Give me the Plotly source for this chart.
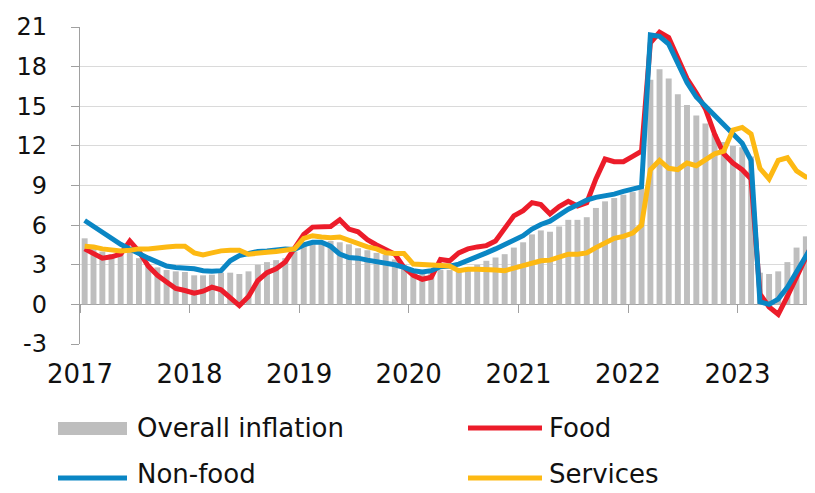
import pandas as pd
import plotly.graph_objects as go

# ---------------- data (monthly, Jan 2017 - Sep 2023) ----------------
months = pd.date_range("2017-01-01", periods=81, freq="MS")

overall = [5.0, 4.5, 4.0, 3.8, 3.9, 4.0, 3.5, 3.0, 2.8, 2.6, 2.5, 2.45,
           2.2, 2.2, 2.25, 2.4, 2.4, 2.3, 2.5, 3.0, 3.2, 3.35, 3.5, 4.0,
           4.5, 4.75, 4.8, 4.8, 4.7, 4.55, 4.25, 4.1, 3.9, 3.75, 3.4, 3.0,
           2.4, 2.3, 2.4, 2.6, 2.6, 2.6, 2.8, 3.0, 3.3, 3.55, 3.8, 4.3,
           4.7, 5.3, 5.6, 5.5, 5.9, 6.4, 6.4, 6.6, 7.3, 7.8, 8.05, 8.3,
           8.5, 8.75, 17.0, 17.8, 17.1, 15.9, 15.1, 14.3, 13.7, 12.9, 12.3, 12.0,
           11.9, 11.2, 2.4, 2.3, 2.5, 3.2, 4.3, 5.15, 6.0]

food = [4.2, 3.8, 3.5, 3.6, 3.8, 4.8, 4.0, 2.9, 2.2, 1.7, 1.2, 1.05,
        0.85, 1.0, 1.3, 1.1, 0.55, -0.1, 0.6, 1.8, 2.4, 2.7, 3.2, 4.3,
        5.3, 5.85, 5.9, 5.9, 6.4, 5.7, 5.5, 4.9, 4.5, 4.2, 3.8, 2.8,
        2.2, 1.9, 2.05, 3.4, 3.3, 3.9, 4.2, 4.35, 4.45, 4.8, 5.7, 6.7,
        7.1, 7.7, 7.55, 6.85, 7.4, 7.8, 7.45, 7.7, 9.5, 11.0, 10.8, 10.8,
        11.2, 11.6, 19.8, 20.6, 20.2, 18.7, 17.1, 16.0, 14.8, 12.9, 11.4, 10.7,
        10.2, 9.5, 0.8, -0.2, -0.75, 0.6, 2.0, 3.5, 5.0]

non_food = [6.35, 5.9, 5.4, 5.0, 4.55, 4.2, 3.8, 3.5, 3.2, 2.9, 2.8, 2.75,
            2.7, 2.55, 2.5, 2.55, 3.3, 3.7, 3.85, 4.0, 4.05, 4.15, 4.2, 4.15,
            4.5, 4.7, 4.7, 4.4, 3.8, 3.55, 3.5, 3.35, 3.25, 3.1, 3.0, 2.8,
            2.55, 2.45, 2.55, 2.85, 2.9, 3.05, 3.3, 3.6, 3.9, 4.2, 4.55, 4.9,
            5.2, 5.7, 6.05, 6.3, 6.8, 7.2, 7.55, 7.9, 8.1, 8.2, 8.35, 8.55,
            8.7, 8.9, 20.4, 20.3, 19.7, 18.3, 16.8, 15.7, 15.0, 14.2, 13.5, 12.8,
            12.2, 10.9, 0.2, 0.0, 0.4, 1.3, 2.5, 3.7, 4.8]

services = [4.4, 4.35, 4.2, 4.1, 4.05, 4.1, 4.2, 4.2, 4.3, 4.35, 4.4, 4.4,
            3.9, 3.75, 3.9, 4.05, 4.1, 4.1, 3.8, 3.9, 3.95, 4.0, 4.1, 4.2,
            5.0, 5.2, 5.1, 5.05, 5.1, 4.85, 4.6, 4.35, 4.2, 3.9, 3.85, 3.85,
            3.05, 3.0, 2.95, 2.9, 2.9, 2.55, 2.65, 2.65, 2.65, 2.6, 2.55, 2.75,
            2.9, 3.15, 3.3, 3.35, 3.55, 3.8, 3.8, 3.9, 4.3, 4.6, 5.0, 5.15,
            5.4, 6.0, 10.2, 10.9, 10.3, 10.2, 10.7, 10.5, 10.9, 11.4, 11.6, 13.2,
            13.4, 12.9, 10.3, 9.5, 10.9, 11.1, 10.1, 9.65, 9.65]

legend_labels = ["Overall inflation", "Food", "Non-food", "Services"]
y_ticks = [-3, 0, 3, 6, 9, 12, 15, 18, 21]
y_tick_text = ["-3", "0", "3", "6", "9", "12", "15", "18", "21"]

# ---------------- styling ----------------
GRAY = "#BEBEBE"
RED = "#EC1C2A"
BLUE = "#0A86C4"
YELLOW = "#FDB913"
AXIS = "#A0A0A0"
GRID = "#DADADA"
FONT = "DejaVu Sans"
TXT = "#111111"

# the page has an 8px body margin, so the figure is drawn 8px in from the corner
OFF = 8
W, H = 815 - OFF, 493 - OFF
ML, MT = 80 - OFF, 27 - OFF
MR = 0
MB = H - (344 - OFF)
PW, PH = W - ML - MR, H - MT - MB
X_RANGE = ["2017-01-01", "2023-09-16"]


def px_x(px):
    """page pixel x -> paper coordinate"""
    return (px - OFF - ML) / PW


def px_y(py):
    """page pixel y -> paper coordinate"""
    return (H - MB - (py - OFF)) / PH


fig = go.Figure()
fig.add_trace(go.Bar(x=months, y=overall, name=legend_labels[0], marker_color=GRAY,
                     marker_line_width=0, xperiod="M1", xperiodalignment="middle",
                     showlegend=False))
fig.add_trace(go.Scatter(x=months, y=food, name=legend_labels[1], mode="lines",
                         line=dict(color=RED, width=5), xperiod="M1",
                         xperiodalignment="middle", showlegend=False))
fig.add_trace(go.Scatter(x=months, y=non_food, name=legend_labels[2], mode="lines",
                         line=dict(color=BLUE, width=5), xperiod="M1",
                         xperiodalignment="middle", showlegend=False))
fig.add_trace(go.Scatter(x=months, y=services, name=legend_labels[3], mode="lines",
                         line=dict(color=YELLOW, width=5), xperiod="M1",
                         xperiodalignment="middle", showlegend=False,
                         xaxis="x2", yaxis="y"))

fig.update_layout(
    width=W, height=H,
    margin=dict(l=ML, r=MR, t=MT, b=MB, autoexpand=False),
    paper_bgcolor="white", plot_bgcolor="white",
    bargap=0.33,
    font=dict(family=FONT, color=TXT),
    xaxis=dict(type="date", range=X_RANGE, tick0="2017-01-01", dtick="M12",
               tickformat="%Y", showgrid=False, showline=False, zeroline=False,
               ticks="", tickfont=dict(size=26, family=FONT, color=TXT),
               ticklabelstandoff=12),
    xaxis2=dict(type="date", range=X_RANGE, overlaying="x", anchor="free",
                position=3 / 24, tick0="2017-01-01", dtick="M12",
                showgrid=False, showline=False, zeroline=False,
                ticks="outside", ticklen=8, tickwidth=1.2, tickcolor=AXIS,
                showticklabels=False),
    yaxis=dict(range=[-3, 21], tickvals=y_ticks, ticktext=y_tick_text,
               showgrid=True, gridcolor=GRID,
               gridwidth=1.2, zeroline=True, zerolinecolor=AXIS, zerolinewidth=1.3,
               showline=True, linecolor=AXIS, linewidth=1.3,
               ticks="outside", ticklen=8, tickcolor=AXIS, tickwidth=1.2,
               tickfont=dict(size=24, family=FONT, color=TXT),
               ticklabelstandoff=19),
)

# ---------------- legend (drawn below the chart) ----------------
shapes = [
    dict(type="rect", xref="paper", yref="paper", x0=px_x(58), x1=px_x(127),
         y0=px_y(435), y1=px_y(422), fillcolor=GRAY, line=dict(width=0)),
    dict(type="line", xref="paper", yref="paper", x0=px_x(468), x1=px_x(542),
         y0=px_y(428), y1=px_y(428), line=dict(color=RED, width=5)),
    dict(type="line", xref="paper", yref="paper", x0=px_x(58), x1=px_x(127),
         y0=px_y(478), y1=px_y(478), line=dict(color=BLUE, width=5)),
    dict(type="line", xref="paper", yref="paper", x0=px_x(468), x1=px_x(542),
         y0=px_y(478), y1=px_y(478), line=dict(color=YELLOW, width=5)),
]
fig.update_layout(shapes=shapes)

# (x, y, yanchor): second row is anchored at its bottom so it stays inside the page
legend_pos = [(135, 428, "middle"), (547, 428, "middle"),
              (135, 491, "bottom"), (547, 491, "bottom")]
for label, (lx, ly, ya) in zip(legend_labels, legend_pos):
    fig.add_annotation(text=label, xref="paper", yref="paper", x=px_x(lx), y=px_y(ly),
                       xanchor="left", yanchor=ya, showarrow=False,
                       font=dict(size=26, family=FONT, color=TXT))

fig.write_html("out.html")
